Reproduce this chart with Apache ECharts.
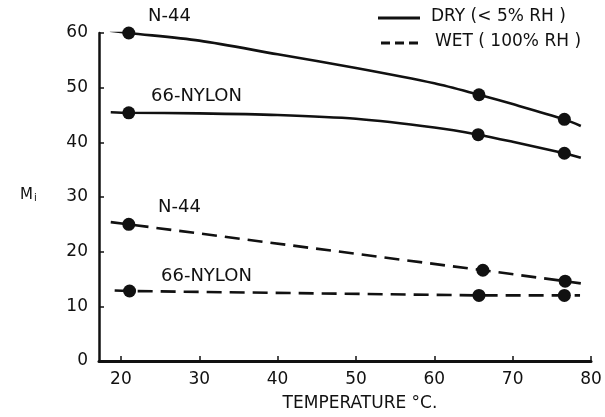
<!DOCTYPE html>
<html>
<head>
<meta charset="utf-8">
<script src="https://cdn.jsdelivr.net/npm/echarts@6/dist/echarts.min.js"></script>
<style>
  html, body { margin: 0; padding: 0; background: #fff; }
  #chart { width: 605px; height: 417px; }
</style>
</head>
<body>
<div id="chart"></div>
<script>
// measured points (temperature, Mi)
const dryN44Pts = [[21, 60], [65.7, 48.7], [76.6, 44.2]];
const dryNylonPts = [[21, 45.4], [65.6, 41.4], [76.6, 38.0]];
const wetN44Pts = [[21, 25.0], [66.2, 16.6], [76.7, 14.6]];
const wetNylonPts = [[21.1, 12.8], [65.7, 12.0], [76.6, 12.0]];

// hand drawn curves through the points
const dryN44Curve = [[18.6, 60.4], [21, 60], [30, 58.6], [40, 56.1], [50, 53.6], [60, 50.8], [65.7, 48.7], [70, 47.0], [76.6, 44.2], [78.7, 43.0]];
const dryNylonCurve = [[18.7, 45.5], [21, 45.4], [30, 45.3], [40, 45.0], [50, 44.3], [60, 42.7], [65.6, 41.4], [70, 40.1], [76.6, 38.0], [78.7, 37.2]];
const wetN44Curve = [[18.7, 25.4], [21, 25.0], [66.2, 16.6], [76.7, 14.6], [78.7, 14.2]];
const wetNylonCurve = [[19.2, 12.9], [21.1, 12.8], [65.7, 12.0], [76.6, 12.0], [78.6, 12.0]];

const xTicks = [20, 30, 40, 50, 60, 70, 80];

const DRY = 'DRY (< 5% RH )';
const WET = 'WET ( 100% RH )';
const FONT = '"DejaVu Sans"';
const INK = '#111';

const chart = echarts.init(document.getElementById('chart'));

function curve(data, dashed, smooth) {
    return {
        type: 'line', data: data, smooth: smooth, symbol: 'none',
        lineStyle: { color: INK, width: 2.6, type: dashed ? [15, 8] : 'solid' },
        z: 2
    };
}
function dots(data) {
    return {
        type: 'scatter', data: data, symbol: 'circle', symbolSize: 13,
        itemStyle: { color: INK, opacity: 1 }, z: 3
    };
}
function label(x, y, text, size) {
    return { type: 'text', left: x, top: y, style: { text: text, font: (size || 18) + 'px ' + FONT, fill: INK } };
}

chart.setOption({
    backgroundColor: '#fff',
    animation: false,
    grid: { left: 99, right: 14, top: 33, bottom: 55 },
    xAxis: {
        type: 'value', min: 17.2, max: 80,
        axisLine: { show: true, lineStyle: { color: INK, width: 3 } },
        axisTick: { show: true, inside: true, length: 5, lineStyle: { color: INK, width: 1.5 },
            customValues: xTicks },
        axisLabel: { fontFamily: 'DejaVu Sans', fontSize: 17, color: INK, margin: 10,
            customValues: xTicks },
        splitLine: { show: false },
        name: 'TEMPERATURE °C.', nameLocation: 'middle', nameGap: 34,
        nameTextStyle: { fontFamily: 'DejaVu Sans', fontSize: 17, color: INK, padding: [0, 0, 0, 30] }
    },
    yAxis: {
        type: 'value', min: 0, max: 60, interval: 10,
        axisLine: { show: true, lineStyle: { color: INK, width: 2.5 } },
        axisTick: { show: true, inside: true, length: 5, lineStyle: { color: INK, width: 1.5 } },
        axisLabel: { fontFamily: 'DejaVu Sans', fontSize: 17, color: INK, margin: 11 },
        splitLine: { show: false }
    },
    graphic: [
        label(148, 7, 'N-44'),
        label(151, 87, '66-NYLON'),
        label(158, 198, 'N-44'),
        label(161, 267, '66-NYLON'),
        { type: 'text', left: 20, top: 188, style: {
            text: '{m|M}{i|i}', fill: INK,
            rich: { m: { fontFamily: 'DejaVu Sans', fontSize: 15 },
                    i: { fontFamily: 'DejaVu Sans', fontSize: 10, verticalAlign: 'bottom', padding: [6, 0, 0, 1] } }
        } },
        // legend
        { type: 'line', shape: { x1: 378, y1: 18, x2: 420, y2: 18 }, style: { stroke: INK, lineWidth: 2.8 } },
        { type: 'line', shape: { x1: 381, y1: 43, x2: 423, y2: 43 }, style: { stroke: INK, lineWidth: 2.8, lineDash: [9, 5] } },
        label(431, 8, DRY, 17),
        label(435, 33, WET, 17)
    ],
    series: [
        curve(dryN44Curve, false, 0.3),
        curve(dryNylonCurve, false, 0.3),
        curve(wetN44Curve, true, false),
        curve(wetNylonCurve, true, false),
        dots(dryN44Pts), dots(dryNylonPts), dots(wetN44Pts), dots(wetNylonPts)
    ]
});
</script>
</body>
</html>
